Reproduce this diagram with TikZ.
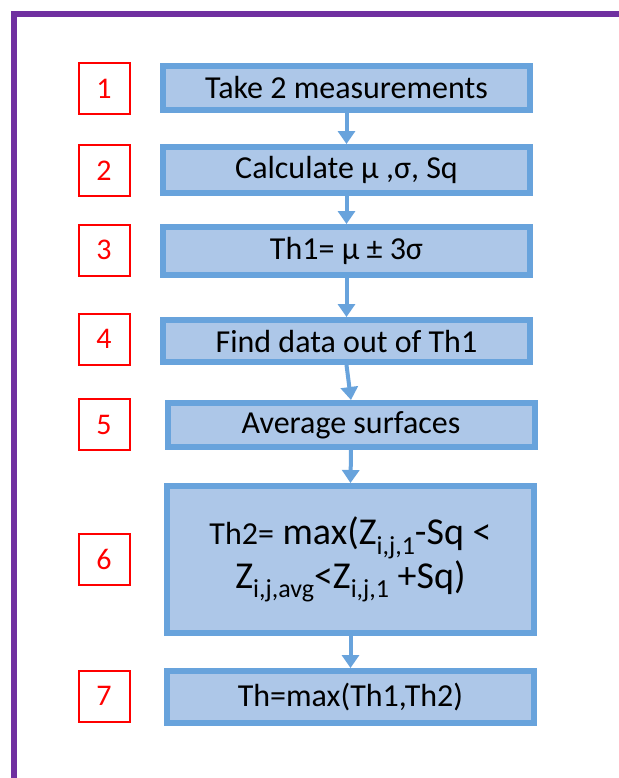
\documentclass[tikz,border=0pt]{standalone}
\usepackage{fontspec}
\setmainfont{Carlito}
\usetikzlibrary{arrows.meta}
\definecolor{framepurple}{RGB}{112,48,160}
\definecolor{stepfill}{RGB}{173,199,232}
\definecolor{stepline}{RGB}{104,163,220}
\definecolor{numred}{RGB}{255,0,0}
\newcommand{\idx}[1]{\raisebox{-0.5ex}{\fontsize{13}{13}\selectfont #1}}

\begin{document}
\begin{tikzpicture}[x=0.5pt,y=-0.5pt,
  stepbox/.style={draw=stepline,fill=stepfill,line width=3pt,minimum width=183.5pt,
    minimum height=22pt,inner sep=0pt,align=center,font=\fontsize{16}{19}\selectfont},
  numbox/.style={draw=numred,line width=1pt,minimum size=25.5pt,inner sep=0pt,
    text=numred,font=\fontsize{15}{18}\selectfont},
  flow/.style={-{Triangle[width=8.5pt,length=6.5pt]},stepline,line width=2pt}]
  \useasboundingbox (0,0) rectangle (619,778);
  \fill[white] (0,0) rectangle (619,778);
  \draw[framepurple,line width=2.85pt] (13.8,778) -- (13.8,13.8) -- (619,13.8);
  % step numbers
  \foreach \i/\y in {1/88.7,2/170.5,3/250,4/339,5/424.5,6/559.5,7/696}
    \node[numbox] (n\i) at (104,\y) {\i};
  % steps
  \node[stepbox] (b1) at (346.5,88) {Take 2 measurements};
  \node[stepbox,minimum height=23pt] (b2) at (346.5,170) {Calculate μ ,σ, Sq};
  \node[stepbox,minimum height=24pt] (b3) at (346.5,251) {Th1= μ ± 3σ};
  \node[stepbox,minimum height=21pt] (b4) at (346.5,341) {Find data out of Th1};
  \node[stepbox] (b5) at (351,425) {Average surfaces};
  \node[stepbox,minimum height=73.5pt,font=\fontsize{19}{20.5}\selectfont] (b6) at (350.5,559.5)
    {{\fontsize{16}{19}\selectfont Th2=} max(Z\idx{i,j,1}-Sq <\\Z\idx{i,j,avg}<Z\idx{i,j,1} +Sq)};
  \node[stepbox,minimum height=26pt] (b7) at (350.5,697) {Th=max(Th1,Th2)};
  \foreach \a/\b in {1/2,2/3,3/4,4/5,5/6,6/7}
    \draw[flow] (b\a.south) -- (b\b.north);
\end{tikzpicture}
\end{document}
